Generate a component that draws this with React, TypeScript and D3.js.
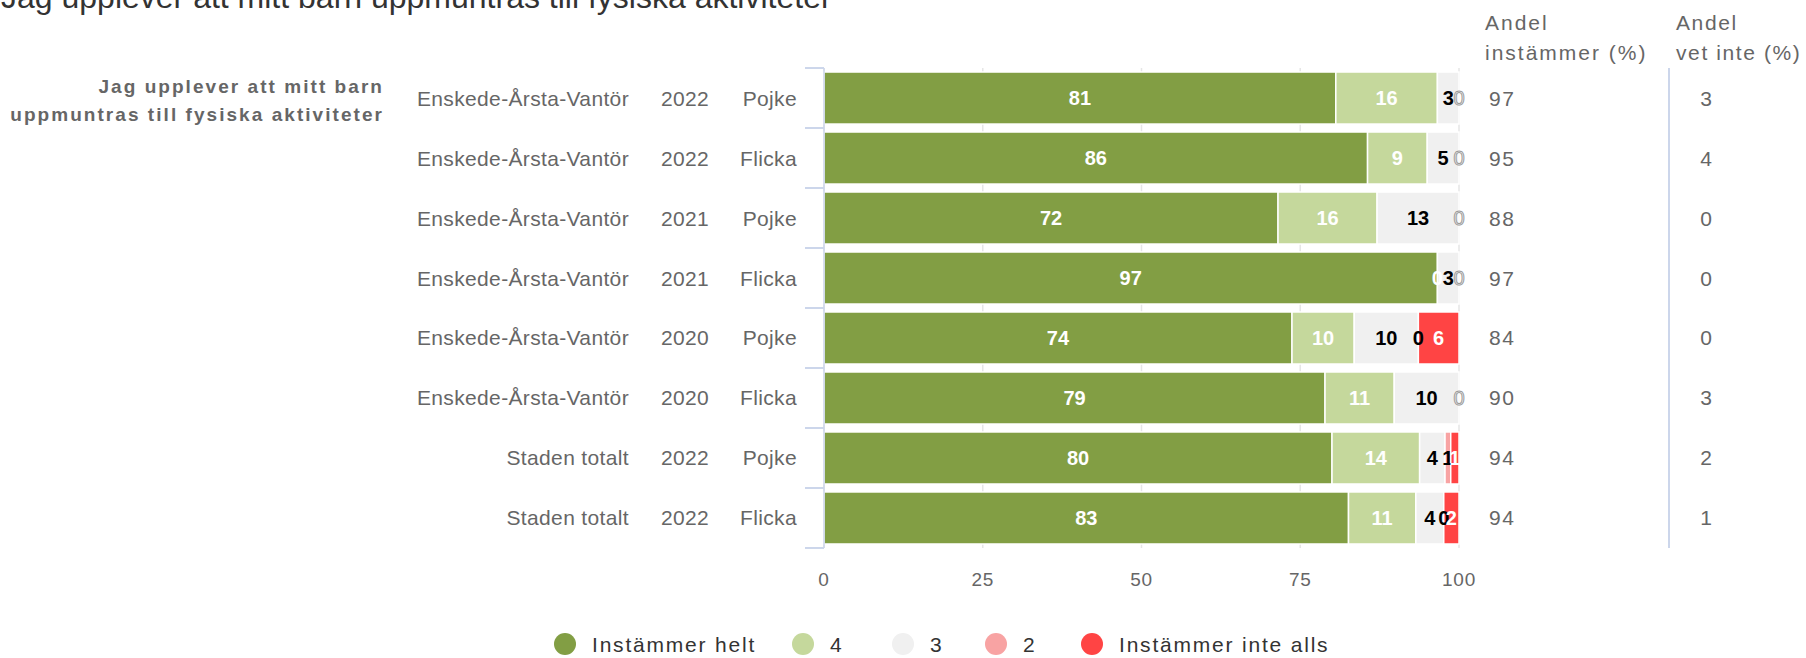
import React from "react";
import * as d3 from "d3";

const regions = [
  "Enskede-Årsta-Vantör",
  "Enskede-Årsta-Vantör",
  "Enskede-Årsta-Vantör",
  "Enskede-Årsta-Vantör",
  "Enskede-Årsta-Vantör",
  "Enskede-Årsta-Vantör",
  "Staden totalt",
  "Staden totalt",
];
const years = ["2022", "2022", "2021", "2021", "2020", "2020", "2022", "2022"];
const genders = ["Pojke", "Flicka", "Pojke", "Flicka", "Pojke", "Flicka", "Pojke", "Flicka"];

const instammerHelt = [80.6, 85.6, 71.5, 96.6, 73.7, 78.9, 80.0, 82.6];
const fyra = [16.0, 9.4, 15.6, 0, 9.8, 10.9, 13.8, 10.6];
const tre = [3.4, 5.0, 12.9, 3.4, 10.1, 10.2, 4.0, 4.4];
const tva = [0, 0, 0, 0, 0, 0, 0.9, 0];
const instammerInteAlls = [0, 0, 0, 0, 6.4, 0, 1.3, 2.4];

const andelInstammer = [97, 95, 88, 97, 84, 90, 94, 94];
const andelVetInte = [3, 4, 0, 0, 0, 3, 2, 1];

const xTicks = [0, 25, 50, 75, 100];

const seriesNames = ["Instämmer helt", "4", "3", "2", "Instämmer inte alls"];
const seriesColors = ["#829e44", "#c5d89c", "#f0f0f0", "#f8a3a3", "#ff4444"];
const labelColors = ["#ffffff", "#ffffff", "#000000", "#000000", "#ffffff"];
const seriesValues = [instammerHelt, fyra, tre, tva, instammerInteAlls];

const title = "Jag upplever att mitt barn uppmuntras till fysiska aktiviteter";
const questionLines = ["Jag upplever att mitt barn", "uppmuntras till fysiska aktiviteter"];

const W = 1806;
const H = 658;
const FONT = "'Liberation Sans', Arial, Helvetica, sans-serif";

// legend item anchor positions (layout)
const legendCenters = [565, 803, 903, 996, 1092];

export default function App() {
  const x = d3.scaleLinear().domain([0, 100]).range([824, 1459]);
  const y = d3
    .scaleBand<number>()
    .domain(d3.range(regions.length))
    .range([68, 548])
    .paddingInner(0.133)
    .paddingOuter(0.067);
  const bw = y.bandwidth();
  const gapHalf = (y.step() * 0.133) / 2;
  const boundaries = d3.range(regions.length + 1).map((i) =>
    i < regions.length ? (y(i) as number) - gapHalf : (y(i - 1) as number) + bw + gapHalf
  );
  const yTop = boundaries[0];
  const yBot = boundaries[boundaries.length - 1];

  const rows = regions.map((_, i) => {
    let acc = 0;
    return seriesValues.map((vals, s) => {
      const v = vals[i];
      const seg = { s, v, x0: acc, x1: acc + v };
      acc += v;
      return seg;
    });
  });

  const legendY = 644;

  return (
    <svg
      width={W}
      height={H}
      style={{ position: "absolute", left: 0, top: 0, display: "block", background: "#fff" }}
      fontFamily={FONT}
    >
      <text x={1} y={8} fontSize={32} fill="#333333">
        {title}
      </text>

      {questionLines.map((l, i) => (
        <text
          key={i}
          x={384}
          y={93 + i * 28}
          textAnchor="end"
          fontSize={19}
          fontWeight="bold"
          letterSpacing={2.05}
          fill="#666666"
        >
          {l}
        </text>
      ))}

      {xTicks.map((t) => (
        <line key={t} x1={x(t)} x2={x(t)} y1={yTop} y2={yBot} stroke="#e6e6e6" strokeWidth={1.5} />
      ))}

      {rows.map((segs, i) =>
        segs.map((seg) =>
          seg.v > 0 ? (
            <rect
              key={`${i}-${seg.s}`}
              x={x(seg.x0)}
              y={y(i)}
              width={x(seg.x1) - x(seg.x0)}
              height={bw}
              fill={seriesColors[seg.s]}
              stroke="#ffffff"
              strokeWidth={1.5}
            />
          ) : null
        )
      )}

      {rows.map((segs, i) => {
        let hollowDone = false;
        return segs.map((seg) => {
          const cx = x((seg.x0 + seg.x1) / 2);
          const cy = (y(i) as number) + bw / 2 + 7;
          const atEnd = seg.v === 0 && seg.x0 >= 99.95;
          if (atEnd) {
            if (hollowDone) return null;
            hollowDone = true;
            return (
              <text
                key={`${i}-${seg.s}`}
                x={cx}
                y={cy}
                textAnchor="middle"
                fontSize={20}
                fill="#ffffff"
                stroke="#9a9a9a"
                strokeWidth={1}
              >
                {Math.round(seg.v)}
              </text>
            );
          }
          return (
            <text
              key={`${i}-${seg.s}`}
              x={cx}
              y={cy}
              textAnchor="middle"
              fontSize={20}
              fontWeight="bold"
              fill={labelColors[seg.s]}
            >
              {Math.round(seg.v)}
            </text>
          );
        });
      })}

      <line x1={x(0)} x2={x(0)} y1={yTop} y2={yBot} stroke="#ccd6eb" strokeWidth={1.5} />
      {boundaries.map((b, i) => (
        <line key={i} x1={805} x2={x(0)} y1={b} y2={b} stroke="#ccd6eb" strokeWidth={2} />
      ))}
      {regions.map((r, i) => {
        const cy = (y(i) as number) + bw / 2 + 7.5;
        return (
          <g key={i} fontSize={21} fill="#666666" letterSpacing={0.35}>
            <text x={629} y={cy} textAnchor="end">
              {r}
            </text>
            <text x={709} y={cy} textAnchor="end">
              {years[i]}
            </text>
            <text x={797} y={cy} textAnchor="end">
              {genders[i]}
            </text>
          </g>
        );
      })}

      {xTicks.map((t) => (
        <text key={t} x={x(t)} y={586} textAnchor="middle" fontSize={19} letterSpacing={0.8} fill="#666666">
          {t}
        </text>
      ))}

      <g fontSize={21} fill="#666666" letterSpacing={2}>
        <text x={1485} y={30}>Andel</text>
        <text x={1485} y={60}>instämmer (%)</text>
      </g>
      <g fontSize={21} fill="#666666" letterSpacing={1.6}>
        <text x={1676} y={30}>Andel</text>
        <text x={1676} y={60}>vet inte (%)</text>
      </g>
      <line x1={1669} x2={1669} y1={yTop} y2={yBot} stroke="#ccd6eb" strokeWidth={2} />
      {andelInstammer.map((v, i) => (
        <text
          key={i}
          x={1489}
          y={(y(i) as number) + bw / 2 + 7.5}
          fontSize={21}
          letterSpacing={1.5}
          fill="#666666"
        >
          {v}
        </text>
      ))}
      {andelVetInte.map((v, i) => (
        <text
          key={i}
          x={1706}
          y={(y(i) as number) + bw / 2 + 7.5}
          textAnchor="middle"
          fontSize={21}
          fill="#666666"
        >
          {v}
        </text>
      ))}

      {seriesNames.map((n, i) => (
        <g key={i}>
          <circle cx={legendCenters[i]} cy={legendY} r={11} fill={seriesColors[i]} />
          <text
            x={legendCenters[i] + 27}
            y={legendY + 7.5}
            fontSize={21}
            letterSpacing={1.8}
            fill="#333333"
          >
            {n}
          </text>
        </g>
      ))}
    </svg>
  );
}
